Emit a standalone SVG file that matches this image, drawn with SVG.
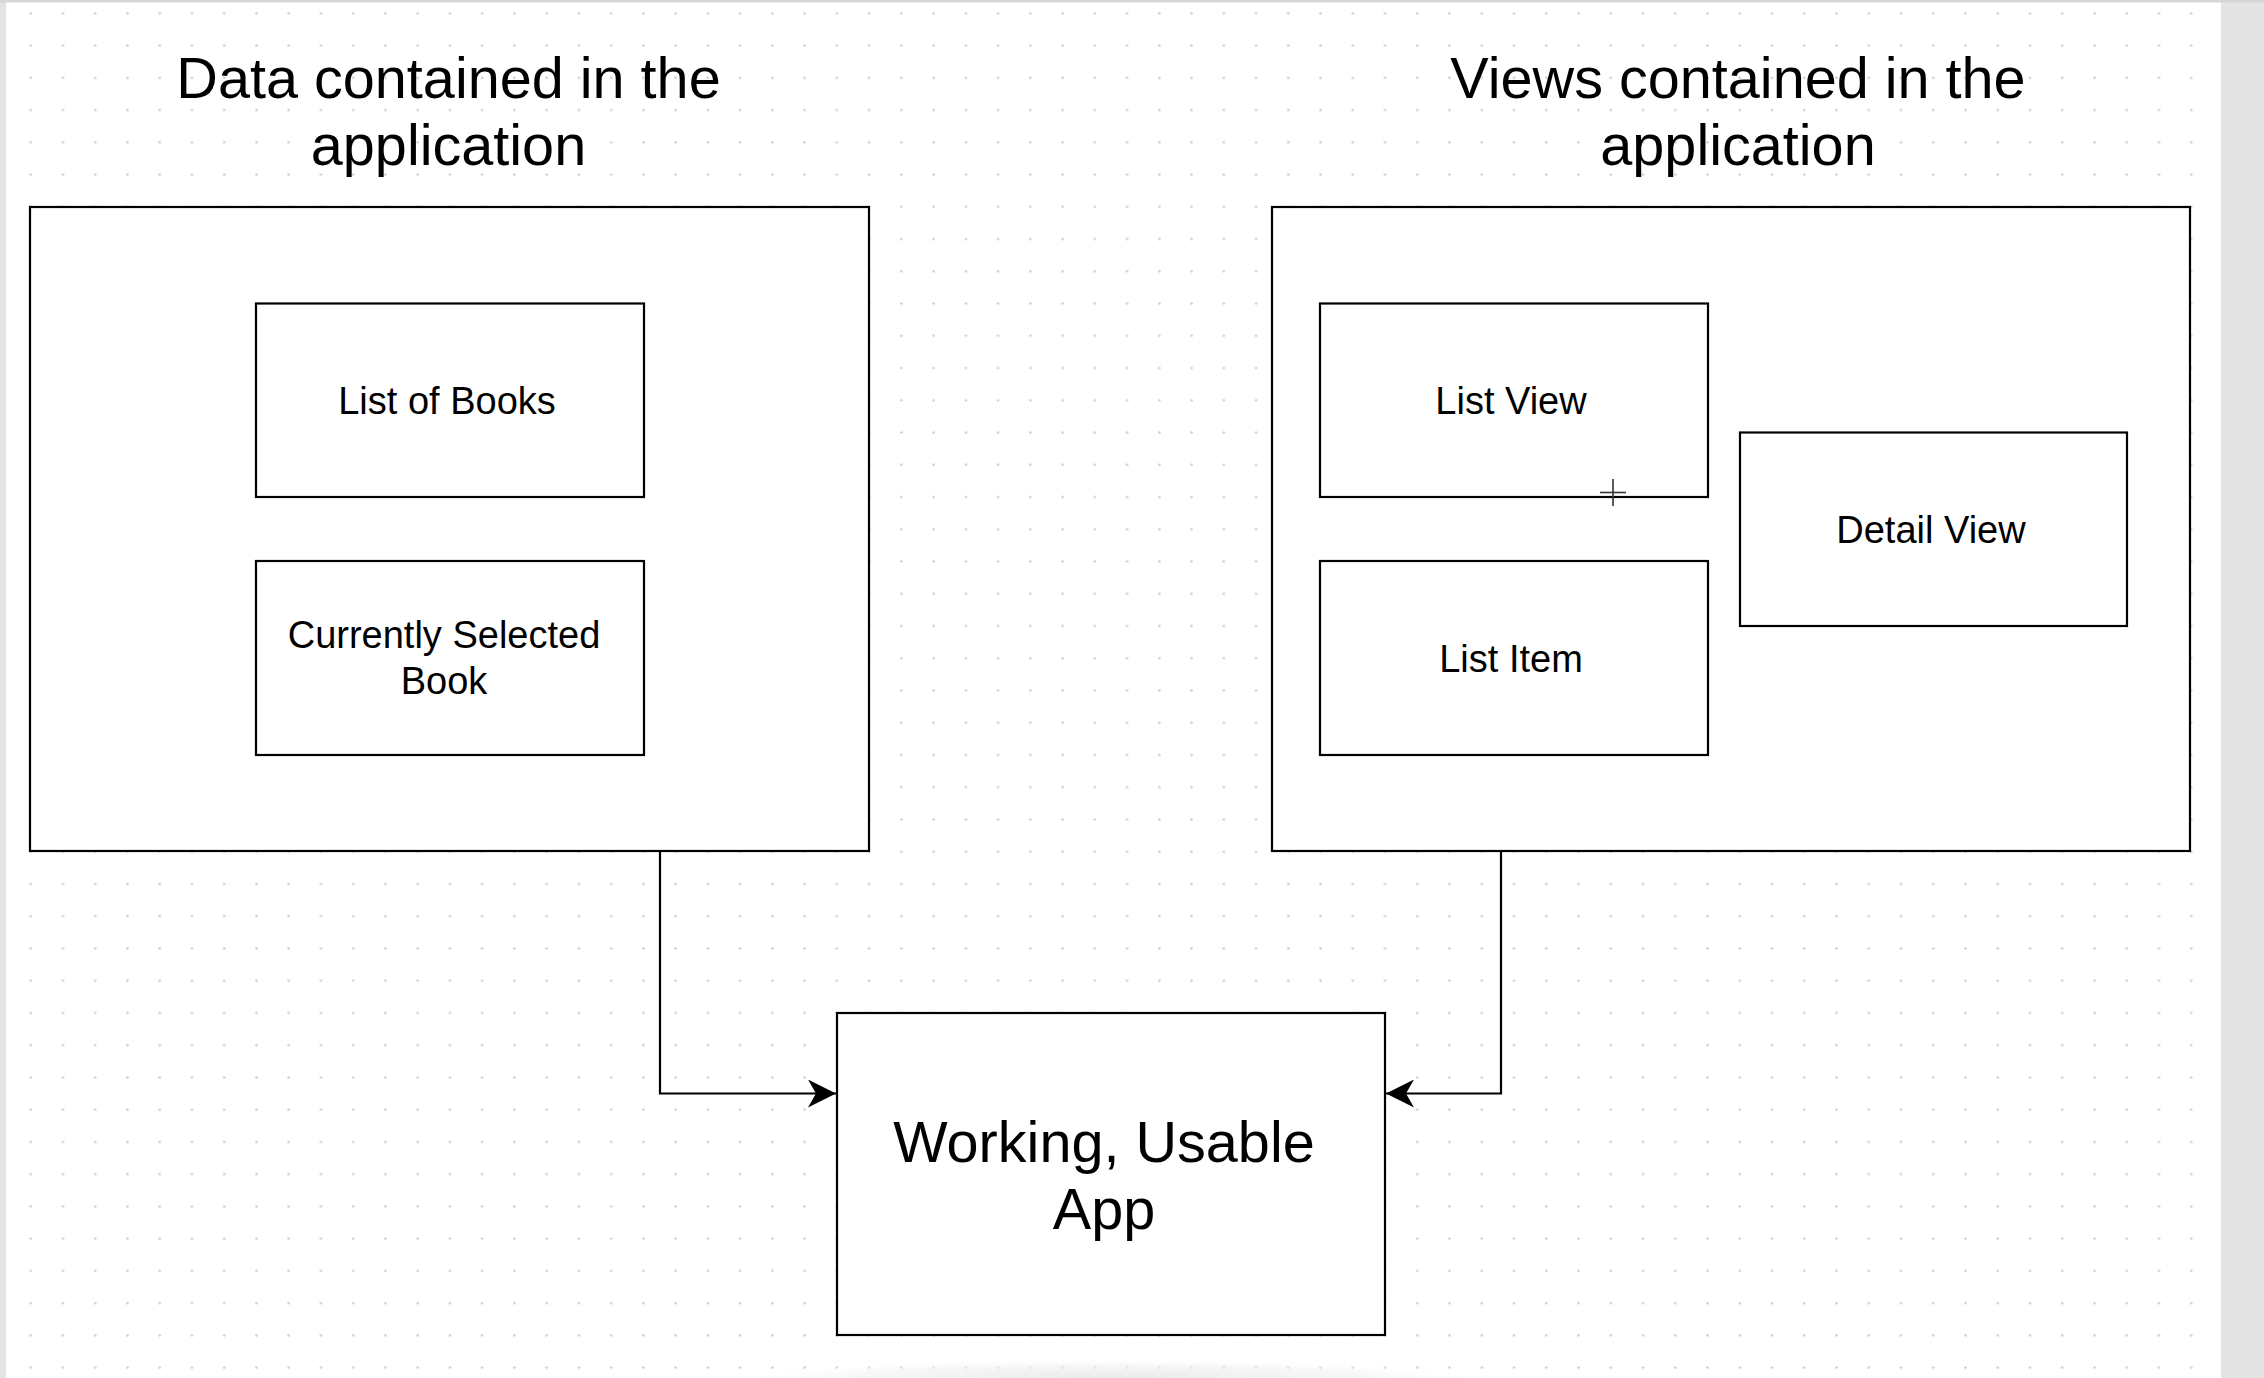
<svg xmlns="http://www.w3.org/2000/svg" width="2264" height="1378" viewBox="0 0 2264 1378">
  <defs>
    <pattern id="grid" patternUnits="userSpaceOnUse" x="14.6" y="-2.8" width="32.246" height="32.246">
      <circle cx="16.12" cy="16.12" r="1.3" fill="#cdcdcd"/>
    </pattern>
    <marker id="arrow" markerUnits="userSpaceOnUse" viewBox="0 0 28 28" markerWidth="28" markerHeight="28" refX="28" refY="14" orient="auto">
      <path d="M0,0 L28,14 L0,28 L8,14 Z" fill="#000"/>
    </marker>
    <radialGradient id="shadow" cx="0.5" cy="1" r="0.5" gradientTransform="translate(0,0) scale(1,1)">
      <stop offset="0" stop-color="#e6e6e6" stop-opacity="0.9"/>
      <stop offset="0.7" stop-color="#f0f0f0" stop-opacity="0.5"/>
      <stop offset="1" stop-color="#ffffff" stop-opacity="0"/>
    </radialGradient>
    <style>
      .box { fill: #ffffff; stroke: #000000; stroke-width: 2.2; }
      .conn { fill: none; stroke: #000000; stroke-width: 2.2; }
      .title { font-family: "Liberation Sans", Arial, sans-serif; font-size: 57.6px; fill: #000000; text-anchor: middle; }
      .label { font-family: "Liberation Sans", Arial, sans-serif; font-size: 38px; fill: #000000; text-anchor: middle; }
      .big { font-family: "Liberation Sans", Arial, sans-serif; font-size: 57.6px; fill: #000000; text-anchor: middle; }
    </style>
  </defs>

  <!-- background -->
  <rect x="0" y="0" width="2264" height="1378" fill="#ffffff"/>
  <rect x="0" y="0" width="2264" height="1378" fill="url(#grid)"/>
  <rect x="740" y="1340" width="740" height="38" fill="url(#shadow)"/>
  <rect x="0" y="0" width="6" height="1378" fill="#e3e3e3"/>
  <rect x="2221" y="0" width="43" height="1378" fill="#e4e4e4"/>
  <rect x="0" y="0" width="2264" height="2.5" fill="#d6d6d6"/>

  <!-- titles -->
  <g id="title-data">
    <text class="title" x="448.5" y="98">Data contained in the</text>
    <text class="title" x="448.5" y="165">application</text>
  </g>
  <g id="title-views">
    <text class="title" x="1738" y="98">Views contained in the</text>
    <text class="title" x="1738" y="165">application</text>
  </g>

  <!-- containers -->
  <g id="data-container">
    <rect class="box" x="30" y="207" width="839" height="644"/>
  </g>
  <g id="views-container">
    <rect class="box" x="1272" y="207" width="918" height="644"/>
  </g>

  <!-- data nodes -->
  <g id="list-of-books">
    <rect class="box" x="256" y="303.5" width="388" height="193.5"/>
    <text class="label" x="447" y="414">List of Books</text>
  </g>
  <g id="currently-selected-book">
    <rect class="box" x="256" y="561" width="388" height="194"/>
    <text class="label" x="444" y="648">Currently Selected</text>
    <text class="label" x="444" y="694">Book</text>
  </g>

  <!-- view nodes -->
  <g id="list-view">
    <rect class="box" x="1320" y="303.5" width="388" height="193.5"/>
    <text class="label" x="1511" y="414">List View</text>
  </g>
  <g id="list-item">
    <rect class="box" x="1320" y="561" width="388" height="194"/>
    <text class="label" x="1511" y="672">List Item</text>
  </g>
  <g id="detail-view">
    <rect class="box" x="1740" y="432.5" width="387" height="193.5"/>
    <text class="label" x="1931" y="543">Detail View</text>
  </g>

  <!-- result node -->
  <g id="working-app">
    <rect class="box" x="837" y="1013" width="548" height="322"/>
    <text class="big" x="1104" y="1162">Working, Usable</text>
    <text class="big" x="1104" y="1229">App</text>
  </g>

  <!-- connectors -->
  <g id="connectors">
    <path class="conn" d="M660,851 V1093.5 H836" marker-end="url(#arrow)"/>
    <path class="conn" d="M1501,851 V1093.5 H1386" marker-end="url(#arrow)"/>
  </g>

  <!-- mouse cursor crosshair -->
  <g id="cursor" stroke="#333333" stroke-width="1.6">
    <line x1="1613" y1="479" x2="1613" y2="506"/>
    <line x1="1600" y1="492.5" x2="1626" y2="492.5"/>
  </g>
</svg>
